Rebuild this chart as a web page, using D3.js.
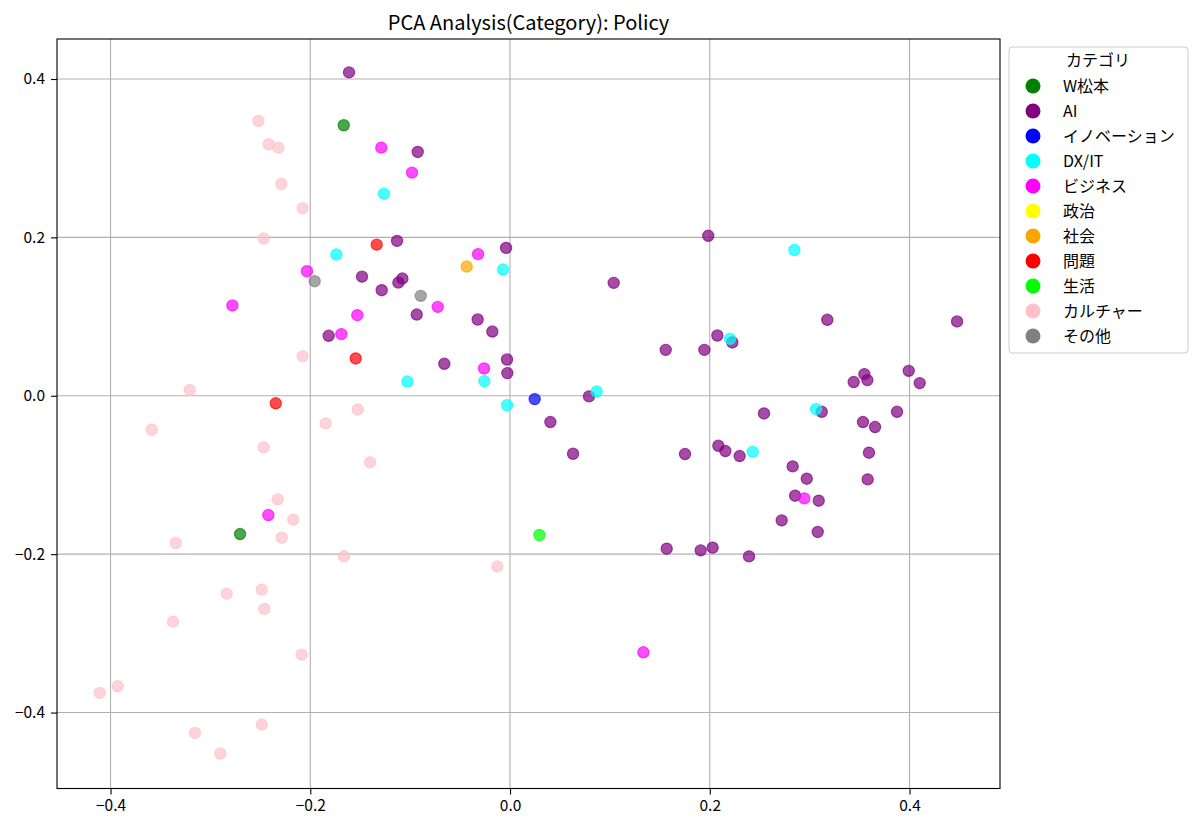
<!DOCTYPE html>
<html>
<head>
<meta charset="utf-8">
<script src="https://cdn.jsdelivr.net/npm/d3@7"></script>
<style>
  body { margin: 0; background: #fff; }
  svg { display: block; font-family: "Noto Sans CJK JP", "Noto Sans", sans-serif; }
</style>
</head>
<body>
<svg id="chart" width="1200" height="829"></svg>
<script>
const chartTitle = "PCA Analysis(Category): Policy";
const legendTitle = "カテゴリ";
const categories = ["W松本", "AI", "イノベーション", "DX/IT", "ビジネス", "政治", "社会", "問題", "生活", "カルチャー", "その他"];
const categoryColors = ["#008000", "#800080", "#0000ff", "#00ffff", "#ff00ff", "#ffff00", "#ffa500", "#ff0000", "#00ff00", "#ffc0cb", "#808080"];
const xTicks = [-0.4, -0.2, 0.0, 0.2, 0.4];
const yTicks = [-0.4, -0.2, 0.0, 0.2, 0.4];

// Points per category: [x, y]
const ptsMatsumoto = [[-0.1665, 0.3416], [-0.2703, -0.1746]];
const ptsAI = [
  [0.1985, 0.202], [0.3177, 0.0959], [0.4476, 0.0938], [0.2076, 0.0761], [0.2226, 0.0673], [0.1946, 0.058],
  [0.3548, 0.0273], [0.3578, 0.0198], [0.3441, 0.0173], [0.3992, 0.0315], [0.4102, 0.016], [0.3121, -0.0202],
  [0.2543, -0.0223], [0.3875, -0.0202], [0.3534, -0.0332], [0.3655, -0.0395], [0.1752, -0.0736], [0.2086, -0.0631],
  [0.2156, -0.0698], [0.2299, -0.0761], [0.3594, -0.0719], [0.283, -0.0892], [0.2971, -0.1047], [0.3581, -0.1056],
  [0.2854, -0.1262], [0.3091, -0.1325], [0.272, -0.1573], [0.3081, -0.172], [0.1909, -0.1952], [0.2029, -0.1918],
  [0.2393, -0.2028], [0.1569, -0.1931],
  [-0.1131, 0.1956], [-0.004, 0.1867], [-0.1482, 0.1505], [-0.1078, 0.148], [-0.1118, 0.143], [-0.1285, 0.1333],
  [-0.0934, 0.1026], [-0.0324, 0.0963], [-0.0177, 0.0811], [-0.1816, 0.0757], [-0.0658, 0.0404], [-0.003, 0.0458],
  [-0.0027, 0.0286], [-0.1612, 0.4084], [-0.0924, 0.3079],
  [0.1038, 0.1426], [0.1559, 0.058], [0.0791, -0.0008], [0.0404, -0.0332], [0.0631, -0.0732]
];
const ptsInnovation = [[0.0247, -0.0042]];
const ptsDXIT = [
  [0.2847, 0.184], [0.2203, 0.0719], [0.3064, -0.0168], [0.243, -0.0707], [-0.1262, 0.2553], [-0.1739, 0.1783],
  [-0.007, 0.1594], [-0.1028, 0.018], [-0.0257, 0.0185], [-0.003, -0.0118], [0.0868, 0.0054]
];
const ptsBusiness = [
  [0.2947, -0.1296], [-0.0981, 0.2818], [-0.032, 0.1788], [-0.2033, 0.1573], [-0.278, 0.114], [-0.0724, 0.1123],
  [-0.1529, 0.1018], [-0.1689, 0.0778], [-0.026, 0.0345], [-0.1289, 0.3133], [-0.242, -0.1506], [0.1335, -0.3239]
];
const ptsPolitics = [];
const ptsSociety = [[-0.0434, 0.1632]];
const ptsProblem = [[-0.1335, 0.1909], [-0.1545, 0.0471], [-0.2346, -0.0095]];
const ptsLife = [[0.0294, -0.1758]];
const ptsCulture = [
  [-0.229, 0.2675], [-0.2076, 0.2368], [-0.2466, 0.1985], [-0.2076, 0.0501], [-0.1525, -0.0173], [-0.252, 0.347],
  [-0.2416, 0.3176], [-0.232, 0.3133], [-0.3207, 0.0072], [-0.3588, -0.0429], [-0.1846, -0.0349], [-0.2466, -0.0652],
  [-0.1402, -0.0841], [-0.2326, -0.1308], [-0.217, -0.1565], [-0.2286, -0.1792], [-0.3347, -0.1859], [-0.1662, -0.2027],
  [-0.2837, -0.2498], [-0.2486, -0.2448], [-0.246, -0.2692], [-0.3374, -0.2852], [-0.2086, -0.3268], [-0.3928, -0.3668],
  [-0.4108, -0.3752], [-0.2486, -0.4151], [-0.3154, -0.4256], [-0.2901, -0.4517], [-0.0127, -0.2154]
];
const ptsOther = [[-0.1956, 0.1447], [-0.0894, 0.1262]];

const pointsByCategory = [ptsMatsumoto, ptsAI, ptsInnovation, ptsDXIT, ptsBusiness, ptsPolitics, ptsSociety, ptsProblem, ptsLife, ptsCulture, ptsOther];

const svg = d3.select("#chart");
const margin = { left: 57, right: 200, top: 39, bottom: 40.5 };
const W = 1200, H = 829;
const x = d3.scaleLinear().domain([-0.4536, 0.4906]).range([margin.left, W - margin.right]);
const y = d3.scaleLinear().domain([-0.4959, 0.4505]).range([H - margin.bottom, margin.top]);

// grid
const grid = svg.append("g");
grid.selectAll("line.vx").data(xTicks).enter().append("line")
  .attr("x1", d => x(d)).attr("x2", d => x(d))
  .attr("y1", margin.top).attr("y2", H - margin.bottom)
  .attr("stroke", "#b0b0b0").attr("stroke-width", 1.1);
grid.selectAll("line.hy").data(yTicks).enter().append("line")
  .attr("y1", d => y(d)).attr("y2", d => y(d))
  .attr("x1", margin.left).attr("x2", W - margin.right)
  .attr("stroke", "#b0b0b0").attr("stroke-width", 1.1);

// points
const fmtMinus = d => d3.format(".1f")(d).replace("-", "\u2212");
const plot = svg.append("g");
categories.forEach((c, i) => {
  plot.selectAll(null).data(pointsByCategory[i]).enter().append("circle")
    .attr("cx", d => x(d[0])).attr("cy", d => y(d[1]))
    .attr("r", 5.6)
    .attr("fill", categoryColors[i]).attr("fill-opacity", 0.7)
    .attr("stroke", categoryColors[i]).attr("stroke-opacity", 0.7).attr("stroke-width", 1.2);
});

// axes
const xAxis = d3.axisBottom(x).tickValues(xTicks).tickFormat(fmtMinus).tickSize(6).tickPadding(5);
const yAxis = d3.axisLeft(y).tickValues(yTicks).tickFormat(fmtMinus).tickSize(6).tickPadding(6);
const gx = svg.append("g").attr("transform", `translate(0,${H - margin.bottom})`).call(xAxis);
const gy = svg.append("g").attr("transform", `translate(${margin.left},0)`).call(yAxis);
[gx, gy].forEach(g => {
  g.select(".domain").remove();
  g.selectAll("text").attr("font-size", 15.5).attr("fill", "#000").attr("font-family", "'Noto Sans CJK JP', sans-serif");
  g.selectAll("line").attr("stroke", "#000").attr("stroke-width", 1.1);
});

// frame
svg.append("rect")
  .attr("x", margin.left).attr("y", margin.top)
  .attr("width", W - margin.right - margin.left).attr("height", H - margin.bottom - margin.top)
  .attr("fill", "none").attr("stroke", "#000").attr("stroke-width", 1.1);

// title
svg.append("text")
  .attr("x", (margin.left + W - margin.right) / 2).attr("y", 29.5)
  .attr("text-anchor", "middle").attr("font-size", 20).attr("fill", "#000")
  .text(chartTitle);

// legend
const lg = svg.append("g");
lg.append("rect")
  .attr("x", 1009).attr("y", 47).attr("width", 179).attr("height", 306)
  .attr("rx", 3).attr("fill", "#fff").attr("fill-opacity", 0.8)
  .attr("stroke", "#cccccc").attr("stroke-width", 1);
lg.append("text")
  .attr("x", 1098).attr("y", 66).attr("text-anchor", "middle")
  .attr("font-size", 16).attr("fill", "#000").text(legendTitle);
const items = lg.selectAll("g.item").data(categories).enter().append("g")
  .attr("transform", (d, i) => `translate(0, ${86 + i * 25})`);
items.append("circle").attr("cx", 1033).attr("cy", 0).attr("r", 7.5)
  .attr("fill", (d, i) => categoryColors[i]);
items.append("text").attr("x", 1063).attr("y", 6)
  .attr("font-size", 16).attr("fill", "#000").text(d => d);
</script>
</body>
</html>
